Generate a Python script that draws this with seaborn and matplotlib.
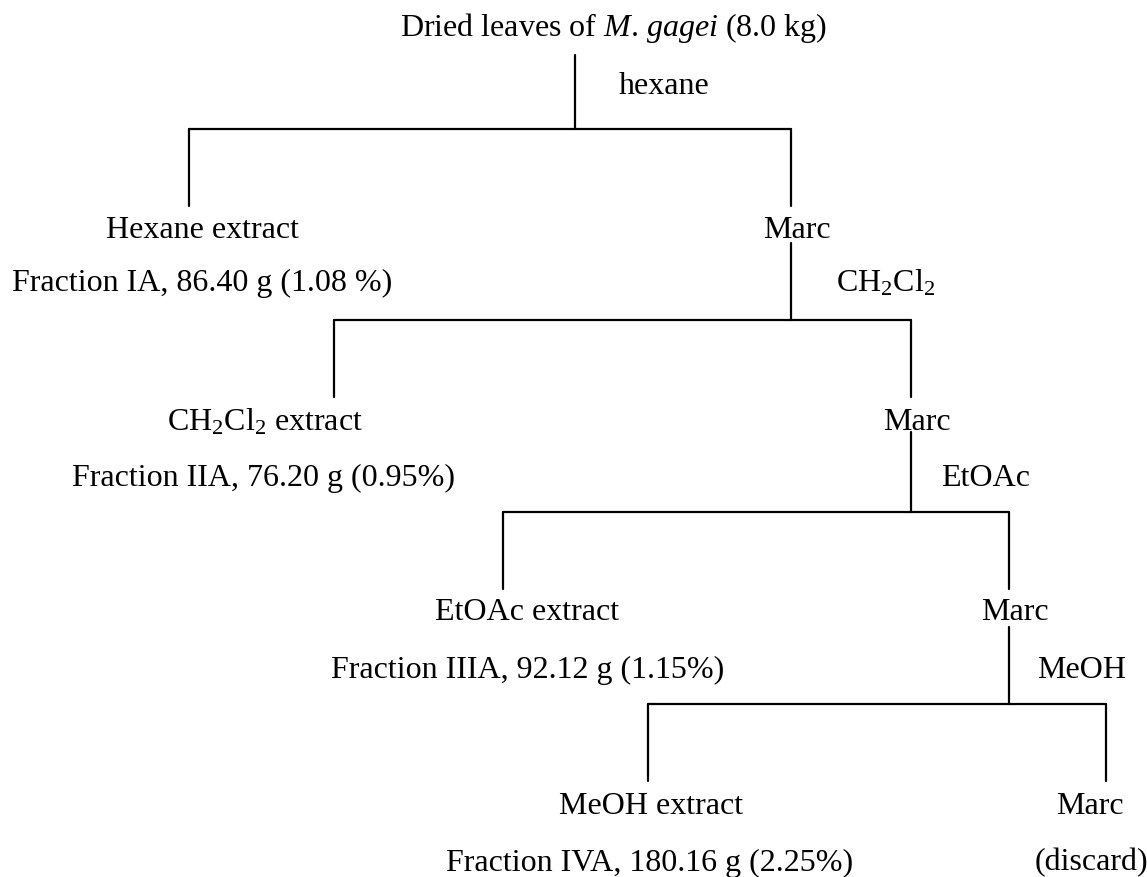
import matplotlib
matplotlib.use("Agg")
import matplotlib.pyplot as plt
import seaborn as sns
import pandas as pd

# Extraction scheme data
START = r"Dried leaves of $\mathit{M}$. $\mathit{gagei}$ (8.0 kg)"
SOLVENTS = ["hexane", r"CH$_2$Cl$_2$", "EtOAc", "MeOH"]
EXTRACTS = ["Hexane extract", r"CH$_2$Cl$_2$ extract", "EtOAc extract", "MeOH extract"]
FRACTIONS = ["Fraction IA, 86.40 g (1.08 %)", "Fraction IIA, 76.20 g (0.95%)",
             "Fraction IIIA, 92.12 g (1.15%)", "Fraction IVA, 180.16 g (2.25%)"]
RESIDUE = ["Marc", "Marc", "Marc", "Marc"]
FINAL_NOTE = "(discard)"

# Layout (pixels, y from top)
stem_x = [575, 791, 911, 1009]
stem_top = [55, 243, 432, 627]
bar_y = [128.5, 320, 512, 704]
left_x = [189, 334, 503, 648]
right_x = [791, 911, 1009, 1106]
drop = 77
solvent_pos = [(619, 87), (836, 283), (941, 478), (1037, 670)]
extract_pos = [(203, 230), (265, 422), (527, 613), (651, 807)]
fraction_pos = [(202, 283), (264, 478), (528, 670), (650, 863)]
marc_pos = [(797, 230), (917, 422), (1015, 613), (1090, 807)]
note_pos = (1091, 863)

sns.set_theme(style="white")
plt.rcParams["font.family"] = ["Liberation Serif", "DejaVu Serif"]
plt.rcParams["mathtext.fontset"] = "custom"
plt.rcParams["mathtext.rm"] = "Liberation Serif"
plt.rcParams["mathtext.it"] = "Liberation Serif:italic"
plt.rcParams["mathtext.default"] = "regular"

fig, ax = plt.subplots(figsize=(11.47, 8.77), dpi=100)
fig.subplots_adjust(0, 0, 1, 1)

# Build line segments
rows = []
seg = 0
for i in range(4):
    for (x0, y0, x1, y1) in [
        (stem_x[i], stem_top[i], stem_x[i], bar_y[i]),
        (left_x[i], bar_y[i], right_x[i], bar_y[i]),
        (left_x[i], bar_y[i], left_x[i], bar_y[i] + drop),
        (right_x[i], bar_y[i], right_x[i], bar_y[i] + drop),
    ]:
        rows.append({"seg": seg, "x": x0, "y": y0})
        rows.append({"seg": seg, "x": x1, "y": y1})
        seg += 1
lines = pd.DataFrame(rows)
sns.lineplot(data=lines, x="x", y="y", units="seg", estimator=None, sort=False,
             color="black", linewidth=1.6, ax=ax)
ax.set_xlim(0, 1147)
ax.set_ylim(877, 0)
ax.axis("off")

fs = 23
kw = dict(va="center", fontsize=fs, color="black")
ax.text(614, 28, START, ha="center", **kw)
for i in range(4):
    ax.text(*solvent_pos[i], SOLVENTS[i], ha="left", **kw)
    ax.text(*extract_pos[i], EXTRACTS[i], ha="center", **kw)
    ax.text(*fraction_pos[i], FRACTIONS[i], ha="center", **kw)
    ax.text(*marc_pos[i], RESIDUE[i], ha="center", **kw)
ax.text(*note_pos, FINAL_NOTE, ha="center", **kw)

fig.savefig("out.png", dpi=100, facecolor="white")
